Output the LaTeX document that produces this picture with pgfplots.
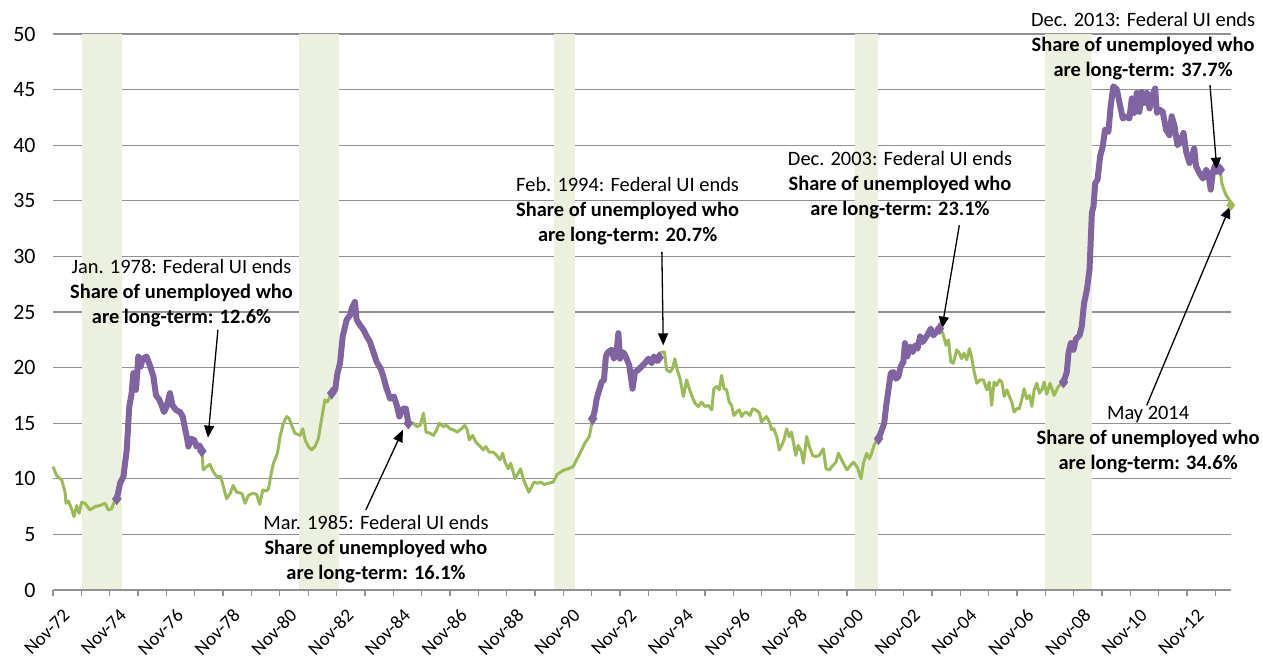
\documentclass[border=0pt]{standalone}
\usepackage{pgfplots}
\pgfplotsset{compat=1.18}
\usepackage{fontspec}
\setmainfont{Carlito}
\usetikzlibrary{arrows.meta}
\definecolor{lgreen}{RGB}{155,187,89}
\definecolor{lpurple}{RGB}{128,100,162}
\definecolor{recess}{RGB}{235,241,222}
\definecolor{gridgray}{RGB}{145,145,145}
\begin{document}
\begin{tikzpicture}
\begin{axis}[
  at={(0,0)}, anchor=south west,
  width=1178bp, height=556bp, scale only axis,
  xmin=0, xmax=498.6, ymin=0, ymax=50,
  clip=false,
  axis x line*=bottom, axis y line*=left,
  y axis line style={draw=none},
  x axis line style={draw=gridgray, line width=1.3bp},
  ytick={0,5,...,50},
  ytick style={draw=none},
  ymajorgrids,
  major grid style={gridgray, line width=1.3bp},
  xtick={0,24,...,480},
  minor xtick={12,36,...,492},
  xticklabels={Nov-72,Nov-74,Nov-76,Nov-78,Nov-80,Nov-82,Nov-84,Nov-86,Nov-88,Nov-90,Nov-92,Nov-94,Nov-96,Nov-98,Nov-00,Nov-02,Nov-04,Nov-06,Nov-08,Nov-10,Nov-12},
  tick align=outside,
  major tick length=6bp, minor tick length=6bp,
  xtick style={gridgray, line width=1.3bp},
  /pgf/number format/assume math mode=true,
  yticklabel style={font=\fontsize{22}{24}\selectfont, xshift=-8bp},
  xticklabel style={font=\fontsize{19}{21}\selectfont, xshift=9bp, yshift=-7bp, rotate=45, anchor=north east},
]
% recession bands
\addplot[draw=none, fill=recess] coordinates {(12.4,0.12) (12.4,50) (29.3,50) (29.3,0.12)} -- cycle;
\addplot[draw=none, fill=recess] coordinates {(104.3,0.12) (104.3,50) (121.2,50) (121.2,0.12)} -- cycle;
\addplot[draw=none, fill=recess] coordinates {(212.1,0.12) (212.1,50) (221.0,50) (221.0,0.12)} -- cycle;
\addplot[draw=none, fill=recess] coordinates {(339.5,0.12) (339.5,50) (349.1,50) (349.1,0.12)} -- cycle;
\addplot[draw=none, fill=recess] coordinates {(419.9,0.12) (419.9,50) (439.7,50) (439.7,0.12)} -- cycle;
% full series (green)
\addplot[lgreen, line width=3bp, line join=round, mark=none] coordinates {
(0,11.1)(1.5,10.3)(3.7,9.9)(5.1,8.8)(5.5,7.8)(6.5,8.0)(7.5,7.5)(8.9,6.6)(10,7.6)(11.1,6.9)(12.1,7.9)(13.5,7.8)(15.7,7.2)(17.8,7.5)(19.9,7.6)(22,7.8)(23.4,7.2)(24.8,7.3)(26.2,8.1)(27,8.2)
(28.4,9.6)(29.8,10.2)(31.2,12.6)(32.3,16.5)(33.3,17.7)(34,19.5)(35.1,18)(35.7,19.6)(36.1,21)(37.1,20.1)(38,20.8)(39.6,21)(41,20.2)(42.5,19.2)(43.6,17.5)(45,17.1)(46,16.6)(47,16.0)(48.1,16.5)(49.5,17.7)(50.6,16.6)(52,16.2)(53.8,16.0)(54.9,15.6)(55.9,14.5)(56.6,13.8)(57.3,12.9)(58.3,13.6)(59.7,13.5)(60.8,12.9)(62,13.0)(63,12.5)
(63.6,10.8)(65,11.1)(66.4,11.3)(67.9,10.6)(69.3,10.2)(71,10.2)(72.1,9.3)(73.5,8.2)(75,8.7)(76.3,9.4)(77.7,8.8)(79.9,8.7)(81.3,7.8)(82.7,8.5)(84.5,8.7)(86.2,8.6)(87.5,7.7)(88.8,9.0)(90.2,8.9)(91.2,9.1)(92.2,10.3)(93.3,11.4)(95,12.3)(96.1,13.8)(97.5,15.0)(98.9,15.6)(100,15.4)(101,14.8)(102.4,14.1)(104.6,13.9)(105.7,14.5)(106.7,13.5)(108.1,12.9)(109.5,12.6)(110.9,12.9)(112.3,13.6)(113.7,15.4)(115.1,17.1)(116.1,16.9)(117.3,17.4)(118,17.7)
(119.4,18)(120.4,19.5)(121.5,20.4)(122.6,22.8)(124.3,24.3)(125.7,24.7)(126.4,25.3)(127.8,25.9)(128.5,24.3)(130,23.8)(131.4,23.4)(132.8,22.8)(134.2,22.3)(135.3,21.6)(137,20.5)(138.7,19.9)(139.8,19.2)(141.2,18.1)(142.7,17.2)(144.3,17.4)(145.5,16.6)(146.6,15.6)(148,16.3)(149.4,16.3)(150.4,15.0)
(152.5,15.0)(154,14.7)(155.4,14.8)(156.8,15.9)(157.9,14.2)(159.6,14.1)(161,13.9)(162.4,14.4)(163.5,15.0)(165.2,14.7)(166.6,14.8)(168,14.5)(169.5,14.4)(171.1,14.2)(172.9,14.5)(174.3,14.8)(175.3,14.4)(176.2,13.5)(177.6,13.9)(179,13.3)(180.4,13.0)(182.1,12.6)(183.2,12.9)(184.6,12.4)(186.3,12.4)(187.8,12.1)(189.2,11.7)(190.3,12.3)(191.3,11.5)(192.7,10.9)(193.7,11.4)(194.8,10.6)(195.5,10.0)(196.9,10.5)(197.9,10.9)(199,10.0)(200.2,9.4)(201.4,8.8)(202.6,9.3)(203.6,9.7)(205,9.6)(206.4,9.7)(207.8,9.5)(209.6,9.6)(211.7,9.7)(213.4,10.4)(214.8,10.6)(216.3,10.8)(218.1,10.9)(220.2,11.1)(221.6,11.7)(223.3,12.4)(225.1,13.2)(227,13.8)(228.4,15.4)
(229.4,16.2)(230.1,17.2)(231.2,18.0)(232.2,18.7)(233.2,18.9)(234,21.0)(235,21.4)(236.4,21.6)(237.4,20.8)(238.5,21.3)(239.3,23.1)(240,20.8)(240.7,21.4)(241.7,21.3)(242.8,20.8)(243.9,20.2)(245.3,18.1)(246.3,19.6)(247.7,19.8)(249.1,20.1)(250.5,20.4)(252,20.8)(253.4,20.4)(254.3,21.0)(255.5,20.6)(256.5,20.9)
(257.5,21.4)(258.8,21.4)(259.7,19.8)(261.1,19.6)(262.2,19.9)(263.2,20.8)(264.2,19.8)(265.4,19.0)(266.8,17.4)(267.5,18.1)(268.2,18.9)(269.3,18.1)(270.3,17.5)(271.7,16.8)(273.1,16.5)(274.5,16.9)(276,16.5)(277.3,16.6)(278.8,16.2)(279.7,18.1)(280.9,18.3)(282,18.0)(283,19.3)(284,18.1)(285.1,18.0)(286.2,16.9)(287.2,16.6)(288.2,15.7)(289.3,16.0)(290.5,16.2)(291.5,15.6)(292.4,15.9)(293.6,16.0)(295,15.7)(296.1,16.3)(297.5,16.2)(299,15.9)(299.9,15.1)(301,15.4)(302,15.6)(303.2,15.1)(304.2,14.4)(305.1,14.5)(306.3,13.8)(307.4,12.6)(308.4,13.0)(309.4,13.5)(310.5,14.5)(311.6,13.8)(312.6,14.2)(313.6,13.0)(314.4,12.1)(315.4,13.0)(316.8,12.4)(317.6,11.4)(319,13.8)(320.1,12.9)(321.5,12.1)(322.9,12.0)(324.3,12.1)(326,12.7)(327.2,10.9)(328.6,10.8)(330,11.2)(331.4,11.5)(332.4,12.3)
(333.8,11.7)(336,10.8)(337.5,11.2)(338.8,11.5)(340.5,11.0)(342,10.0)(343,11.4)(344.4,12.3)(345.5,11.8)(346.5,12.3)(347.5,13.0)(348.7,13.5)(349.4,13.6)
(350.8,14.4)(351.8,15.0)(352.6,16.5)(353.6,18.0)(354.6,19.5)(355.7,19.6)(356.8,19.0)(357.8,19.2)(358.8,20.1)(359.9,20.5)(360.6,22.2)(361.6,21.0)(362.8,21.9)(363.9,21.4)(364.9,22.0)(365.9,21.7)(367,22.8)(368.1,22.3)(369.1,22.6)(370.5,23.1)(371.5,23.5)(372.6,22.9)(373.8,23.2)(375.2,23.5)
(376.6,23.1)(378,22.0)(379,22.5)(380,20.5)(381.1,20.4)(382.5,21.6)(383.6,21.3)(384.6,20.8)(385.6,21.3)(386.7,20.7)(387.9,21.7)(388.9,20.8)(389.9,19.6)(391,18.6)(392.4,18.9)(393.8,18.9)(395.2,18.0)(396.3,18.7)(397.3,16.6)(398.3,18.7)(399.4,18.4)(400.6,18.9)(401.6,18.7)(402.6,17.4)(403.7,18.0)(404.8,17.4)(405.8,16.9)(406.8,16.0)(407.9,16.3)(409,16.3)(410,17.1)(411,18.1)(412.1,17.2)(413.3,17.5)(414.3,16.5)(415.3,18.0)(416.4,18.6)(417.5,17.7)(418.5,18.0)(419.5,18.7)(420.6,17.6)(422,18.6)(423.7,17.5)(425.5,18.3)(427.7,18.7)
(429.1,19.6)(429.8,21.3)(430.8,22.2)(431.9,21.6)(433,22.6)(434.5,22.9)(435.4,23.7)(436.4,25.8)(437.6,27.0)(438.7,28.8)(439.3,31.8)(439.7,33.9)(440.4,34.5)(441.1,36.6)(442.1,36.9)(443.2,39.0)(444.3,39.9)(445.3,41.4)(446.7,41.2)(447.7,43.6)(448.8,45.3)(450.3,45.0)(451.4,43.8)(452.8,42.4)(454.2,42.6)(455.6,42.4)(456.6,44.2)(457.6,42.9)(458.7,44.7)(459.8,43.0)(460.8,44.8)(461.8,43.8)(463,44.7)(464.1,43.3)(465.1,44.4)(466.5,45.1)(467.2,42.9)(468.3,43.2)(469.7,43.0)(471.1,41.4)(472.5,40.9)(473.5,42.6)(474.7,41.7)(475.9,40.0)(477.1,40.3)(478.5,41.1)(479.6,39.4)(481,38.4)(482,39.0)(483,39.7)(483.8,38.1)(485.2,37.5)(486.7,37.0)(488.1,37.8)(489.1,37.3)(490,36.0)(490.9,37.6)(491.9,38.2)(492.6,37.6)(494,37.8)
(494.7,36.6)(495.4,36.1)(496.5,35.5)(497.5,35.2)(498.5,34.6)
};
% federal UI periods (purple)
\pgfplotsset{fed/.style={lpurple, line width=6bp, line join=round, line cap=round, mark=none}}
\addplot[fed] coordinates {
(27,8.2)(28.4,9.6)(29.8,10.2)(31.2,12.6)(32.3,16.5)(33.3,17.7)(34,19.5)(35.1,18)(35.7,19.6)(36.1,21)(37.1,20.1)(38,20.8)(39.6,21)(41,20.2)(42.5,19.2)(43.6,17.5)(45,17.1)(46,16.6)(47,16.0)(48.1,16.5)(49.5,17.7)(50.6,16.6)(52,16.2)(53.8,16.0)(54.9,15.6)(55.9,14.5)(56.6,13.8)(57.3,12.9)(58.3,13.6)(59.7,13.5)(60.8,12.9)(62,13.0)(63,12.5)};
\addplot[fed] coordinates {
(118,17.7)(119.4,18)(120.4,19.5)(121.5,20.4)(122.6,22.8)(124.3,24.3)(125.7,24.7)(126.4,25.3)(127.8,25.9)(128.5,24.3)(130,23.8)(131.4,23.4)(132.8,22.8)(134.2,22.3)(135.3,21.6)(137,20.5)(138.7,19.9)(139.8,19.2)(141.2,18.1)(142.7,17.2)(144.3,17.4)(145.5,16.6)(146.6,15.6)(148,16.3)(149.4,16.3)(150.4,15.0)};
\addplot[fed] coordinates {
(228.4,15.4)(229.4,16.2)(230.1,17.2)(231.2,18.0)(232.2,18.7)(233.2,18.9)(234,21.0)(235,21.4)(236.4,21.6)(237.4,20.8)(238.5,21.3)(239.3,23.1)(240,20.8)(240.7,21.4)(241.7,21.3)(242.8,20.8)(243.9,20.2)(245.3,18.1)(246.3,19.6)(247.7,19.8)(249.1,20.1)(250.5,20.4)(252,20.8)(253.4,20.4)(254.3,21.0)(255.5,20.6)(256.5,20.9)};
\addplot[fed] coordinates {
(349.4,13.6)(350.8,14.4)(351.8,15.0)(352.6,16.5)(353.6,18.0)(354.6,19.5)(355.7,19.6)(356.8,19.0)(357.8,19.2)(358.8,20.1)(359.9,20.5)(360.6,22.2)(361.6,21.0)(362.8,21.9)(363.9,21.4)(364.9,22.0)(365.9,21.7)(367,22.8)(368.1,22.3)(369.1,22.6)(370.5,23.1)(371.5,23.5)(372.6,22.9)(373.8,23.2)(375.2,23.5)};
\addplot[fed] coordinates {
(427.7,18.7)(429.1,19.6)(429.8,21.3)(430.8,22.2)(431.9,21.6)(433,22.6)(434.5,22.9)(435.4,23.7)(436.4,25.8)(437.6,27.0)(438.7,28.8)(439.3,31.8)(439.7,33.9)(440.4,34.5)(441.1,36.6)(442.1,36.9)(443.2,39.0)(444.3,39.9)(445.3,41.4)(446.7,41.2)(447.7,43.6)(448.8,45.3)(450.3,45.0)(451.4,43.8)(452.8,42.4)(454.2,42.6)(455.6,42.4)(456.6,44.2)(457.6,42.9)(458.7,44.7)(459.8,43.0)(460.8,44.8)(461.8,43.8)(463,44.7)(464.1,43.3)(465.1,44.4)(466.5,45.1)(467.2,42.9)(468.3,43.2)(469.7,43.0)(471.1,41.4)(472.5,40.9)(473.5,42.6)(474.7,41.7)(475.9,40.0)(477.1,40.3)(478.5,41.1)(479.6,39.4)(481,38.4)(482,39.0)(483,39.7)(483.8,38.1)(485.2,37.5)(486.7,37.0)(488.1,37.8)(489.1,37.3)(490,36.0)(490.9,37.6)(491.9,38.2)(492.6,37.6)(494,37.8)};
% end markers
\addplot[only marks, mark=diamond*, mark size=6bp, color=lpurple] coordinates {
(27,8.2)(63,12.5)(118,17.7)(150.4,15.0)(228.4,15.4)(256.5,20.9)(349.4,13.6)(375.2,23.5)(427.7,18.7)(494,37.8)};
\addplot[only marks, mark=diamond*, mark size=5.5bp, color=lgreen] coordinates {(498.5,34.6)};
% annotations
\tikzset{ann/.style={align=center, font=\fontsize{20.5}{25}\selectfont, inner sep=0pt},
         arr/.style={-{Triangle[length=12bp,width=10bp]}, line width=1.3bp, black}}
\node[ann] at (axis cs:54.4,26.7) {Jan. 1978: Federal UI ends\\ \textbf{Share of unemployed who}\\ \textbf{are long-term: 12.6\%}};
\draw[arr] (axis cs:69.8,23.4) -- (axis cs:65.6,13.7);
\node[ann] at (axis cs:136.7,3.7) {Mar. 1985: Federal UI ends\\ \textbf{Share of unemployed who}\\ \textbf{are long-term: 16.1\%}};
\draw[arr] (axis cs:132.4,7.2) -- (axis cs:148.1,14.4);
\node[ann] at (axis cs:243.2,34.1) {Feb. 1994: Federal UI ends\\ \textbf{Share of unemployed who}\\ \textbf{are long-term: 20.7\%}};
\draw[arr] (axis cs:257.7,30.4) -- (axis cs:258.3,22.0);
\node[ann] at (axis cs:358.5,36.4) {Dec. 2003: Federal UI ends\\ \textbf{Share of unemployed who}\\ \textbf{are long-term: 23.1\%}};
\draw[arr] (axis cs:383.6,32.8) -- (axis cs:376.2,23.5);
\node[ann] at (axis cs:461.4,48.9) {Dec. 2013: Federal UI ends\\ \textbf{Share of unemployed who}\\ \textbf{are long-term: 37.7\%}};
\draw[arr] (axis cs:489.7,45.4) -- (axis cs:492.6,37.8);
\node[ann] at (axis cs:463.5,13.5) {May 2014\\ \textbf{Share of unemployed who}\\ \textbf{are long-term: 34.6\%}};
\draw[arr] (axis cs:462.9,16.6) -- (axis cs:498.2,34.5);
\end{axis}
\pgfresetboundingbox
\path[use as bounding box] (-53bp,-70bp) rectangle (1210bp,590bp);
\end{tikzpicture}
\end{document}
